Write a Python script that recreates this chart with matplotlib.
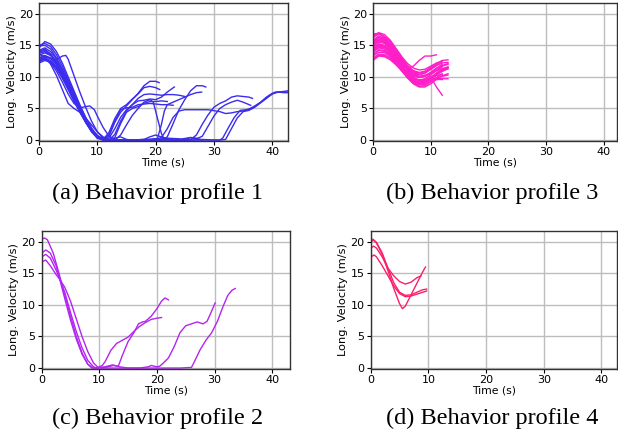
import matplotlib
matplotlib.use('Agg')
import matplotlib.pyplot as plt

# speed traces (time s, long. velocity m/s) per behavior profile
profile1_tracks = [
    [(0, 14.6), (1, 15.6), (2, 15.2), (3, 14.0), (4, 12.2), (5, 10.0), (6, 7.8), (7, 5.6), (8, 3.6), (9, 1.8),
     (10, 0.5), (11, 0.0), (12, 0.6), (13, 2.8), (14, 4.4), (15, 5.4), (16, 6.4), (17, 7.4), (18, 8.6), (19, 9.3),
     (20, 9.3), (20.6, 9.1)],
    [(0, 14.9), (1, 15.0), (2, 14.4), (3, 13.0), (4, 11.2), (5, 9.2), (6, 7.1), (7, 5.1), (8, 3.2), (9, 1.5),
     (10, 0.3), (11, 0.1), (12, 1.2), (13, 3.4), (14, 5.0), (15, 5.6), (16, 6.5), (17, 7.3), (18, 8.3), (19, 8.5),
     (20, 8.3), (20.7, 8.0)],
    [(0, 13.4), (1, 13.8), (2, 13.4), (3, 12.4), (4, 10.8), (5, 8.9), (6, 6.9), (7, 4.9), (8, 3.1), (9, 1.5),
     (10, 0.5), (11, 0.1), (12, 0.3), (13, 1.8), (14, 3.6), (15, 4.8), (16, 5.6), (17, 6.2), (18, 6.3), (19, 6.5),
     (20, 6.4), (21, 6.8), (22, 7.6), (23.2, 8.4)],
    [(0, 12.6), (1, 13.2), (2, 12.9), (3, 11.9), (4, 10.4), (5, 8.6), (6, 6.6), (7, 4.7), (8, 3.0), (9, 1.6),
     (10, 0.6), (11, 0.1), (12, 0.0), (13, 0.9), (14, 3.0), (15, 4.6), (16, 5.6), (17, 6.6), (18, 7.2), (19, 7.3),
     (20, 7.2), (21, 7.1), (22, 7.2), (23, 7.2), (24, 7.1), (25, 6.9)],
    [(0, 12.2), (1, 12.6), (2, 12.3), (3, 11.3), (4, 9.8), (5, 8.0), (6, 6.2), (7, 4.5), (8, 3.0), (9, 1.7),
     (10, 0.7), (11, 0.2), (12, 0.8), (13, 3.0), (14, 4.8), (15, 5.1), (16, 5.2), (17, 5.6), (18, 5.7), (19, 5.8),
     (20, 5.7), (21, 5.6), (22, 5.6), (23, 5.5)],
    [(0, 13.0), (1, 13.3), (2, 12.9), (3, 12.7), (4, 13.3), (4.6, 13.4), (5, 12.8), (6, 10.2), (7, 7.6), (8, 5.2),
     (9, 3.0), (10, 1.3), (11, 0.3), (12, 0.0), (13, 0.0), (14, 0.8), (15, 2.4), (16, 3.9), (17, 5.0), (18, 6.0),
     (19, 6.4), (19.6, 6.0), (20.3, 3.5), (21, 1.0), (21.5, 0.1), (23, 0.0), (25, 0.1), (26, 0.4), (27, 0.3),
     (28, 0.0)],
    [(0, 12.5), (1, 12.9), (2, 12.2), (3, 10.9), (4, 9.2), (5, 7.3), (6, 5.8), (7, 5.1), (8, 5.3), (8.7, 5.4),
     (9.5, 4.8), (10, 3.8), (11, 2.0), (12, 0.6), (13, 0.1), (14, 0.0), (16, 0.0), (18, 0.1), (19, 0.5), (20, 0.8),
     (21, 0.5), (22, 0.2), (23, 0.0), (25, 0.0)],
    [(0, 13.6), (1, 13.2), (2, 12.0), (3, 10.2), (4, 8.0), (5, 5.8), (6, 5.0), (7, 4.4), (8, 3.5), (9, 2.4),
     (10, 1.3), (11, 0.5), (12, 0.1), (13, 0.0), (15, 0.0), (17, 0.0), (19, 0.0), (20.3, 0.2), (21, 2.5),
     (21.5, 4.6), (22, 5.6), (23, 6.0), (24, 6.4), (25, 6.8), (26, 7.2), (27, 7.5), (27.9, 7.6)],
    [(0, 14.2), (1, 14.6), (2, 14.0), (3, 12.8), (4, 11.2), (5, 9.3), (6, 7.3), (7, 5.3), (8, 3.4), (9, 1.8),
     (10, 0.6), (11, 0.1), (12, 0.0), (14, 0.0), (16, 0.0), (18, 0.1), (20, 0.2), (21, 0.0), (22, 0.5), (23, 2.6),
     (24, 4.8), (25, 6.4), (26, 7.8), (27, 8.6), (28, 8.6), (28.6, 8.4)],
    [(0, 13.0), (1, 13.4), (2, 13.0), (3, 12.0), (4, 10.5), (5, 8.6), (6, 6.6), (7, 4.7), (8, 3.0), (9, 1.6),
     (10, 0.6), (11, 0.1), (12, 0.0), (15, 0.0), (18, 0.0), (20, 0.1), (21, 0.4), (22, 1.8), (23, 3.6), (24, 4.6),
     (25, 4.8), (27, 4.8), (29, 4.8), (31, 4.5), (32, 4.2), (33, 4.3), (34, 4.5), (35, 4.6), (36, 4.9), (37, 5.4),
     (38, 6.0), (39, 6.8), (40, 7.4), (41, 7.6), (42, 7.5), (42.7, 7.5)],
    [(0, 14.0), (1, 14.4), (2, 13.6), (3, 12.2), (4, 10.4), (5, 8.5), (6, 6.5), (7, 4.6), (8, 2.9), (9, 1.5),
     (10, 0.5), (11, 0.1), (12, 0.0), (15, 0.0), (18, 0.0), (20, 0.1), (22, 0.3), (24, 0.2), (25, 0.0), (26, 0.1),
     (27, 0.8), (28, 2.5), (29, 4.0), (30, 5.2), (31, 5.8), (32, 6.2), (33, 6.8), (34, 7.0), (35, 6.9), (36, 6.8),
     (36.6, 6.6)],
    [(0, 12.8), (1, 13.0), (2, 12.6), (3, 11.6), (4, 10.1), (5, 8.3), (6, 6.4), (7, 4.6), (8, 2.9), (9, 1.5),
     (10, 0.5), (11, 0.1), (12, 0.0), (16, 0.0), (20, 0.0), (24, 0.1), (26, 0.4), (27, 0.2), (28, 0.6), (29, 2.2),
     (30, 3.8), (31, 5.0), (32, 5.6), (33, 6.0), (34, 6.3), (35, 6.0), (36.3, 5.5)],
    [(0, 13.7), (1, 14.0), (2, 13.4), (3, 12.2), (4, 10.6), (5, 8.8), (6, 6.8), (7, 4.9), (8, 3.1), (9, 1.6),
     (10, 0.5), (11, 0.0), (14, 0.0), (18, 0.0), (22, 0.0), (26, 0.0), (28, 0.1), (30, 0.0), (31, 0.0),
     (31.5, 0.3), (32.5, 2.0), (33.5, 3.6), (34.5, 4.7), (35.5, 4.8), (36.5, 5.0), (37.5, 5.6), (38.5, 6.3),
     (39.5, 7.0), (40.5, 7.6), (41.5, 7.6), (42.7, 7.6)],
    [(0, 12.4), (1, 12.8), (2, 12.4), (3, 11.4), (4, 9.9), (5, 8.1), (6, 6.2), (7, 4.4), (8, 2.8), (9, 1.4),
     (10, 0.4), (11, 0.0), (14, 0.0), (18, 0.0), (22, 0.1), (24, 0.0), (28, 0.0), (31, 0.0), (32, 0.1), (33, 1.8),
     (34, 3.5), (35, 4.5), (36, 4.7), (37, 5.2), (38, 5.9), (39, 6.6), (40, 7.3), (41, 7.6), (42, 7.7), (42.7, 7.8)],
    [(0, 15.0), (1, 15.3), (2, 14.8), (3, 13.5), (4, 11.7), (5, 9.6), (6, 7.5), (7, 5.4), (8, 3.5), (9, 1.9),
     (10, 0.7), (11, 0.1), (12, 0.0), (13, 0.3), (14, 0.5), (15, 0.1), (16, 0.0)],
    [(0, 13.9), (1, 14.2), (2, 13.6), (3, 12.4), (4, 10.7), (5, 8.7), (6, 6.6), (7, 4.6), (8, 2.8), (9, 1.3),
     (10, 0.3), (11, 0.0), (12, 0.0), (13, 0.4), (14, 2.6), (15, 4.4), (16, 5.0), (17, 5.3), (18, 5.8), (19, 6.1),
     (20, 6.1), (21, 6.2), (22, 6.1)],
]

# profile 3 is sampled once per second from t = 0
profile3_speeds = [
    [16.6, 16.9, 16.3, 15.3, 14.0, 12.6, 11.5, 10.9, 10.6, 10.8, 11.3, 11.9, 12.4],
    [16.2, 16.8, 16.4, 15.6, 14.4, 13.0, 11.8, 11.0, 10.7, 10.9, 11.5, 12.1, 12.6, 12.7],
    [15.8, 16.5, 16.0, 15.0, 13.6, 12.2, 11.0, 10.2, 9.9, 10.1, 10.7, 11.4, 12.0],
    [15.5, 16.2, 15.9, 15.1, 13.9, 12.5, 11.3, 10.5, 10.1, 10.2, 10.6, 11.2, 11.7, 12.0],
    [15.1, 15.8, 15.5, 14.6, 13.3, 11.9, 10.7, 9.9, 9.5, 9.7, 10.3, 11.0, 11.6],
    [14.8, 15.5, 15.3, 14.4, 13.2, 11.8, 10.5, 9.6, 9.2, 9.3, 9.9, 10.6, 11.2, 11.5],
    [14.5, 15.2, 14.9, 13.9, 12.6, 11.2, 10.0, 9.2, 8.8, 9.0, 9.6, 10.3, 10.9, 11.3],
    [14.2, 14.9, 14.7, 13.9, 12.7, 11.3, 10.0, 9.0, 8.5, 8.6, 9.2, 9.9, 10.5],
    [13.9, 14.6, 14.4, 13.6, 12.4, 11.0, 9.8, 8.9, 8.4, 8.4, 8.9, 9.6, 10.2, 10.5],
    [13.6, 14.2, 14.0, 13.3, 12.2, 11.0, 9.9, 9.1, 8.7, 8.8, 9.3, 9.8, 10.1, 10.3],
    [13.3, 13.9, 13.8, 13.2, 12.2, 11.1, 10.1, 9.4, 9.1, 9.2, 9.6, 9.8, 9.7, 9.7],
    [13.0, 13.6, 13.5, 12.9, 12.0, 10.9, 9.9, 9.3, 9.0, 9.2, 9.6, 9.6, 9.6],
    [12.6, 13.3, 13.2, 12.7, 11.9, 11.0, 10.2, 9.7, 9.5, 9.6, 9.9, 10.2, 10.4],
    [15.4, 16.0, 15.7, 14.8, 13.5, 12.2, 11.4, 11.7, 12.6, 13.3, 13.3, 13.5],
    [14.6, 15.2, 15.0, 14.2, 13.0, 11.7, 10.7, 10.1, 10.0, 10.3, 10.0, 8.4, 7.1],
    [16.4, 17.0, 16.7, 15.8, 14.5, 13.2, 12.1, 11.4, 11.1, 11.2, 11.7, 12.2, 12.5],
    [15.6, 16.3, 16.1, 15.3, 14.1, 12.8, 11.6, 10.8, 10.4, 10.6, 11.2, 11.8, 12.2, 12.3],
    [14.0, 14.7, 14.6, 14.0, 13.0, 11.8, 10.7, 9.9, 9.4, 9.4, 9.8, 10.4, 11.0, 11.4],
    [12.8, 13.4, 13.4, 13.0, 12.3, 11.4, 10.5, 9.8, 9.4, 9.4, 9.7, 10.3, 10.9, 11.3],
    [15.0, 15.7, 15.5, 14.7, 13.6, 12.3, 11.1, 10.3, 9.9, 10.1, 10.7, 11.3, 11.8, 12.1],
    [16.8, 16.9, 16.2, 15.0, 13.6, 12.3, 11.3, 10.6, 10.3, 10.6, 11.2, 11.8],
    [13.5, 14.3, 14.2, 13.5, 12.4, 11.2, 10.1, 9.4, 9.0, 9.1, 9.5, 9.6, 9.6],
    [14.4, 15.0, 14.8, 14.0, 12.8, 11.4, 10.2, 9.4, 9.0, 9.2, 9.8, 10.6, 11.3],
    [15.2, 15.9, 15.8, 15.0, 13.8, 12.4, 11.2, 10.4, 10.0, 10.1, 10.5, 11.0, 11.3, 11.6],
]

profile2_tracks = [
    [(0, 20.4), (0.5, 20.6), (1, 20.3), (2, 18.2), (3, 15.0), (4, 11.6), (5, 8.2), (6, 5.0), (7, 2.4), (8, 0.6),
     (8.7, 0.0), (12, 0.0), (16, 0.0), (20, 0.0), (24, 0.0), (26, 0.1), (26.5, 1.0), (27.5, 2.9), (28.5, 4.4),
     (29.5, 5.6), (30.5, 7.4), (31.5, 9.8), (32.3, 11.5), (33, 12.3), (33.6, 12.6)],
    [(0, 18.2), (0.7, 18.7), (1.5, 18.2), (2.5, 16.2), (3, 14.5), (4, 11.0), (5, 7.6), (6, 4.6), (7, 2.2),
     (8, 0.6), (9, 0.0), (10, 0.1), (11, 0.2), (12.3, 0.5), (13.5, 0.2), (15, 0.0), (17, 0.0), (18.5, 0.2),
     (19, 0.4), (20, 0.2), (20.5, 0.3), (21, 0.7), (22, 1.6), (23, 3.4), (24, 5.6), (25, 6.7), (26, 7.0),
     (27, 7.3), (28, 7.0), (28.7, 7.4), (29.3, 8.6), (30.1, 10.3)],
    [(0, 17.6), (0.7, 18.0), (1.5, 17.4), (2.5, 15.5), (3.2, 14.0), (4, 12.0), (5, 8.8), (6, 5.8), (7, 3.2),
     (8, 1.2), (9, 0.2), (9.5, 0.0), (11, 0.1), (12.5, 0.4), (13.3, 0.3), (14, 2.0), (15, 4.2), (16, 5.6),
     (16.8, 7.0), (17.5, 7.3), (18, 7.4), (19, 8.2), (20, 9.4), (20.8, 10.6), (21.4, 11.1), (22, 10.8)],
    [(0, 16.8), (0.7, 17.1), (1.5, 16.2), (2.5, 14.8), (3, 14.2), (4, 12.8), (5, 10.6), (6, 7.8), (7, 5.0),
     (8, 2.6), (9, 0.8), (9.8, 0.1), (10.5, 0.4), (11, 1.0), (12, 2.8), (13, 3.9), (14, 4.4), (15, 4.9),
     (16, 5.8), (17, 6.6), (18, 7.2), (19, 7.7), (20, 7.9), (20.8, 8.0)],
]

profile4_tracks = [
    [(0, 19.8), (0.4, 20.3), (1, 19.8), (2, 18.0), (3, 15.4), (4, 12.6), (5, 10.2), (5.5, 9.4), (6, 9.8),
     (7, 11.6), (8, 13.4), (9, 15.2), (9.5, 16.0)],
    [(0, 19.0), (0.5, 19.3), (1, 19.0), (2, 17.6), (3, 15.8), (4, 14.6), (5, 13.7), (6, 13.3), (7, 13.6),
     (8, 14.3), (8.7, 14.6)],
    [(0, 20.2), (0.4, 20.4), (1, 19.9), (2, 18.2), (3, 15.8), (4, 13.5), (5, 12.0), (6, 11.5), (7, 11.6),
     (8, 12.0), (9, 12.4), (9.7, 12.5)],
    [(0, 17.6), (0.6, 17.9), (1, 17.6), (2, 16.2), (3, 14.6), (4, 13.0), (5, 11.8), (6, 11.3), (7, 11.4),
     (8, 11.7), (9, 12.0), (9.7, 12.2)],
]

profile3_tracks = [list(enumerate(s)) for s in profile3_speeds]

fig = plt.figure(figsize=(6.18, 4.40), dpi=100)

panels = [
    # (tracks, color, axes rect, x max, caption, caption center)
    (profile1_tracks, '#3b2cee', [39 / 618, 299 / 440, 249 / 618, 138 / 440], 42.7, '(a) Behavior profile 1', (158, 193)),
    (profile3_tracks, '#ff1fc8', [373 / 618, 299 / 440, 244 / 618, 138 / 440], 42.3, '(b) Behavior profile 3', (492, 193)),
    (profile2_tracks, '#b325f2', [41.7 / 618, 71 / 440, 248.3 / 618, 138 / 440], 43.1, '(c) Behavior profile 2', (158, 418)),
    (profile4_tracks, '#fa2068', [370.7 / 618, 71 / 440, 246.3 / 618, 138 / 440], 42.7, '(d) Behavior profile 4', (492, 418)),
]

for tracks, color, rect, xmax, caption, (cx, cy) in panels:
    ax = fig.add_axes(rect)
    for tr in tracks:
        t, v = zip(*tr)
        ax.plot(t, v, color=color, linewidth=1.0)
    ax.set_xlim(0, xmax)
    ax.set_ylim(-0.15, 21.7)
    ax.set_xticks([0, 10, 20, 30, 40])
    ax.set_yticks([0, 5, 10, 15, 20])
    ax.grid(True, color='#bdbdbd', linewidth=1.0)
    ax.set_axisbelow(True)
    ax.tick_params(labelsize=8, length=3, width=0.8, pad=1.5)
    ax.set_xlabel('Time (s)', fontsize=7.8, labelpad=0)
    ax.set_ylabel('Long. Velocity (m/s)', fontsize=8.2, labelpad=1.5)
    for sp in ax.spines.values():
        sp.set_color('#333333')
        sp.set_linewidth(1.0)
    fig.text(cx / 618, 1 - cy / 440, caption, ha='center', va='center',
             fontsize=17.5, family='Liberation Serif')

fig.savefig('out.png', dpi=100)
